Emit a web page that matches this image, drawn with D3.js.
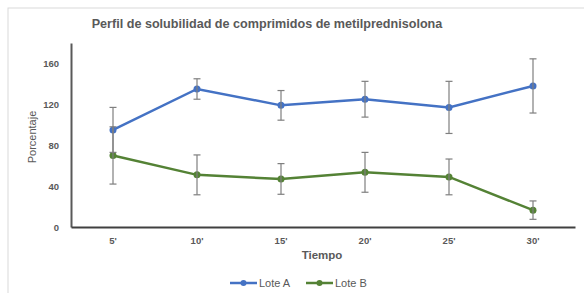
<!DOCTYPE html>
<html>
<head>
<meta charset="utf-8">
<script src="https://cdn.jsdelivr.net/npm/d3@7"></script>
<style>
  body { margin: 0; background: #fff; }
  svg { display: block; font-family: "Liberation Sans", Arial, sans-serif; }
</style>
</head>
<body>
<script>
// chart data
var categories = ["5'", "10'", "15'", "20'", "25'", "30'"];
var loteA = [95, 135, 119, 125, 117, 138];
var loteAErr = [22, 10, 14.5, 17.5, 25.5, 26.5];
var loteB = [70, 51, 47, 53.5, 49, 16.5];
var loteBErr = [28, 19.5, 15, 19.5, 17.5, 9];
var yTicks = [0, 40, 80, 120, 160];

var width = 584, height = 293;
var margin = {left: 71, right: 9, top: 43, bottom: 66};

var svg = d3.select('body').append('svg')
	.attr('width', width)
	.attr('height', height);

// outer frame (only left/top visible in the picture)
svg.append('rect')
	.attr('x', 8).attr('y', 8)
	.attr('width', width).attr('height', height)
	.attr('fill', 'none')
	.attr('stroke', '#d9d9d9')
	.attr('stroke-width', 1);

var x = d3.scaleBand()
	.domain(categories)
	.range([margin.left, width - margin.right]);

var y = d3.scaleLinear()
	.domain([0, 180])
	.range([height - margin.bottom, margin.top]);

// title
svg.append('text')
	.attr('x', 267).attr('y', 28)
	.attr('text-anchor', 'middle')
	.attr('font-size', 12.6)
	.attr('font-weight', 'bold')
	.attr('fill', '#595959')
	.text('Perfil de solubilidad de comprimidos de metilprednisolona');

// y axis
var yAxis = svg.append('g')
	.attr('transform', 'translate(' + margin.left + ',0)')
	.call(d3.axisLeft(y).tickValues(yTicks).tickSize(0).tickPadding(12));
yAxis.select('.domain').attr('stroke', '#595959').attr('stroke-width', 2);
yAxis.selectAll('text')
	.attr('font-size', 9.5)
	.attr('font-weight', 'bold')
	.attr('fill', '#595959')
	.attr('font-family', '"Liberation Sans", Arial, sans-serif');

// x axis
var xAxis = svg.append('g')
	.attr('transform', 'translate(0,' + y(0) + ')')
	.call(d3.axisBottom(x).tickSize(0).tickPadding(10));
xAxis.select('.domain').attr('stroke', '#404040').attr('stroke-width', 2);
xAxis.selectAll('text')
	.attr('font-size', 9.5)
	.attr('font-weight', 'bold')
	.attr('fill', '#595959')
	.attr('font-family', '"Liberation Sans", Arial, sans-serif');

// axis titles
svg.append('text')
	.attr('x', 322).attr('y', 259)
	.attr('text-anchor', 'middle')
	.attr('font-size', 11.5)
	.attr('font-weight', 'bold')
	.attr('fill', '#595959')
	.text('Tiempo');

svg.append('text')
	.attr('transform', 'translate(36,137) rotate(-90)')
	.attr('text-anchor', 'middle')
	.attr('font-size', 11)
	.attr('fill', '#595959')
	.text('Porcentaje');

var series = [
	{name: 'Lote A', values: loteA, err: loteAErr, color: '#4472c4'},
	{name: 'Lote B', values: loteB, err: loteBErr, color: '#548235'}
];

var cx = function(i) { return x(categories[i]) + x.bandwidth() / 2; };

series.forEach(function(s) {
	var line = d3.line()
		.x(function(d, i) { return cx(i); })
		.y(function(d) { return y(d); });

	svg.append('path')
		.datum(s.values)
		.attr('d', line)
		.attr('fill', 'none')
		.attr('stroke', s.color)
		.attr('stroke-width', 2.5);

	svg.append('g').selectAll('circle')
		.data(s.values)
		.enter()
		.append('circle')
		.attr('cx', function(d, i) { return cx(i); })
		.attr('cy', function(d) { return y(d); })
		.attr('r', 3.5)
		.attr('fill', s.color);
});

// error bars on top
series.forEach(function(s) {
	var g = svg.append('g').attr('stroke', '#7f7f7f').attr('stroke-width', 1.2);
	s.values.forEach(function(v, i) {
		var e = s.err[i], px = cx(i);
		g.append('line')
			.attr('x1', px).attr('x2', px)
			.attr('y1', y(v + e)).attr('y2', y(v - e));
		[v + e, v - e].forEach(function(t) {
			g.append('line')
				.attr('x1', px - 3.5).attr('x2', px + 3.5)
				.attr('y1', y(t)).attr('y2', y(t));
		});
	});
});

// legend
var legend = svg.append('g').attr('transform', 'translate(230,283)');
series.forEach(function(s, i) {
	var lg = legend.append('g').attr('transform', 'translate(' + (i * 76) + ',0)');
	lg.append('line')
		.attr('x1', 0).attr('x2', 27)
		.attr('stroke', s.color).attr('stroke-width', 2.5);
	lg.append('circle')
		.attr('cx', 13.5).attr('r', 3)
		.attr('fill', s.color);
	lg.append('text')
		.attr('x', 29).attr('y', 4)
		.attr('font-size', 11)
		.attr('fill', '#595959')
		.text(s.name);
});
</script>
</body>
</html>
